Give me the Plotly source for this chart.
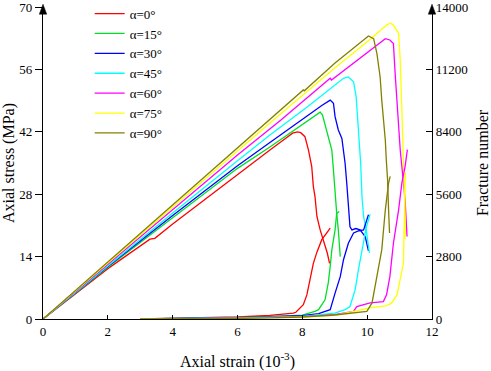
import plotly.graph_objects as go

FONT = "Liberation Serif, Times New Roman, serif"

labels = ["α=0°", "α=15°", "α=30°", "α=45°", "α=60°", "α=75°", "α=90°"]
colors = ["#FF0000", "#00E028", "#0000FF", "#00FFFF", "#FF00FF", "#FFFF00", "#808000"]

# ---- stress-strain curves (strain 10^-3, stress MPa) ----
strain_0 = [0, 2, 3.3, 3.45, 4, 6, 7.0, 7.5, 7.7, 7.85, 7.95, 8.08, 8.19, 8.29, 8.34, 8.39, 8.45, 8.55, 8.65, 8.77, 8.84]
stress_0 = [0, 11.3, 17.9, 18.1, 21.3, 32.5, 37.9, 40.6, 41.7, 42.0, 41.8, 40.9, 37.9, 34.2, 29.7, 27.5, 23.0, 20.0, 17.8, 14.8, 12.5]

strain_15 = [0, 2, 4, 6, 7.0, 8.19, 8.4, 8.55, 8.62, 8.7, 8.76, 8.86, 8.91, 8.96, 9.01, 9.06, 9.11, 9.14, 9.17]
stress_15 = [0, 11.6, 22.7, 33.8, 38.6, 44.6, 45.8, 46.4, 45.8, 43.5, 42.0, 39.4, 37.9, 33.4, 27.5, 23.7, 20.0, 16.0, 14.0]

strain_30 = [0, 2, 4, 6, 7.0, 8.19, 8.6, 8.86, 8.96, 9.01, 9.11, 9.22, 9.32, 9.37, 9.42, 9.47, 9.53, 9.65, 9.78, 9.94, 10.04]
stress_30 = [0, 11.8, 23.2, 34.4, 39.6, 45.9, 47.9, 49.1, 48.4, 45.4, 42.4, 40.5, 34.9, 30.5, 25.2, 20.7, 20.0, 20.3, 20.0, 18.5, 15.3]

strain_45 = [0, 2, 4, 6, 7.0, 8.19, 9.0, 9.27, 9.42, 9.58, 9.66, 9.7, 9.75, 9.8, 9.84, 9.89, 9.97, 10.04, 10.07]
stress_45 = [0, 12.0, 23.8, 35.5, 41.3, 47.8, 52.5, 54.0, 54.3, 53.2, 49.9, 45.4, 41.0, 34.9, 27.5, 23.0, 20.0, 17.0, 14.8]

strain_60 = [0, 2, 4, 6, 7.33, 8.19, 8.86, 8.9, 9.5, 10.4, 10.56, 10.7, 10.81, 10.87, 10.97, 11.02, 11.12, 11.17, 11.23]
stress_60 = [0, 12.3, 24.5, 36.8, 44.6, 50.0, 54.0, 53.6, 57.0, 62.2, 62.9, 62.6, 61.8, 54.3, 43.1, 37.9, 30.5, 26.7, 18.5]

strain_75 = [0, 2, 4, 6, 7.0, 8.19, 9.0, 10.0, 10.61, 10.71, 10.8, 10.97, 11.02, 11.07, 11.12, 11.15, 11.17, 11.17]
stress_75 = [0, 12.6, 25.0, 37.6, 44.0, 51.3, 56.3, 62.2, 66.0, 66.4, 66.0, 64.1, 58.1, 46.9, 35.7, 29.7, 23.0, 18.0]

strain_90 = [0, 2, 4, 6, 7.0, 8.03, 8.06, 9.0, 10.04, 10.2, 10.3, 10.4, 10.45, 10.56, 10.59, 10.63, 10.66, 10.69]
stress_90 = [0, 12.8, 25.6, 38.4, 44.8, 51.4, 51.2, 57.4, 63.5, 62.9, 59.6, 54.3, 49.1, 40.1, 35.7, 31.2, 24.5, 19.3]

# ---- fracture number curves (strain 10^-3, count) ----
fstrain_0 = [3.0, 4, 5, 6, 7, 7.5, 7.72, 7.8, 8.03, 8.14, 8.24, 8.34, 8.45, 8.6, 8.72, 8.86]
fracture_0 = [0, 20, 50, 90, 160, 220, 260, 300, 640, 1080, 1760, 2500, 3000, 3560, 3800, 4080]

fstrain_15 = [3.0, 4, 5, 6, 7, 8, 8.39, 8.5, 8.7, 8.8, 8.86, 8.91, 9.01, 9.06, 9.14]
fracture_15 = [0, 16, 40, 70, 110, 170, 340, 420, 860, 1620, 2360, 3100, 4000, 4740, 4820]

fstrain_30 = [3.0, 4, 5, 6, 7, 8, 8.5, 8.86, 9.01, 9.17, 9.27, 9.42, 9.58, 9.75, 9.89, 10.04]
fracture_30 = [0, 12, 30, 60, 100, 150, 240, 420, 1160, 1900, 2660, 3400, 3860, 3960, 4000, 4680]

fstrain_45 = [3.0, 4, 5, 6, 7, 8, 9, 9.32, 9.47, 9.63, 9.73, 9.84, 9.97, 10.09]
fracture_45 = [0, 10, 24, 50, 80, 120, 260, 420, 560, 1320, 2200, 3100, 4100, 4700]

fstrain_60 = [3.0, 4, 5, 6, 7, 8, 9, 9.58, 9.68, 10.09, 10.5, 10.6, 10.7, 10.81, 10.97, 11.07, 11.17, 11.24]
fracture_60 = [0, 8, 20, 40, 70, 110, 200, 340, 560, 720, 780, 1100, 1900, 3400, 4900, 6100, 6840, 7600]

fstrain_75 = [3.0, 4, 5, 6, 7, 8, 9, 10.09, 10.6, 10.76, 10.92, 11.02, 11.12, 11.15, 11.18]
fracture_75 = [0, 6, 16, 30, 60, 90, 160, 500, 600, 720, 1080, 1760, 2500, 4740, 6600]

fstrain_90 = [3.0, 4, 5, 6, 7, 8, 9, 9.99, 10.15, 10.25, 10.35, 10.45, 10.56, 10.66, 10.71]
fracture_90 = [0, 4, 12, 24, 50, 90, 180, 340, 720, 1460, 2360, 3100, 4900, 6100, 6400]

x_ticks = [0, 2, 4, 6, 8, 10, 12]
y_ticks = [0, 14, 28, 42, 56, 70]
y2_ticks = [0, 2800, 5600, 8400, 11200, 14000]

stress_sets = [(strain_0, stress_0), (strain_15, stress_15), (strain_30, stress_30),
               (strain_45, stress_45), (strain_60, stress_60), (strain_75, stress_75),
               (strain_90, stress_90)]
fracture_sets = [(fstrain_0, fracture_0), (fstrain_15, fracture_15), (fstrain_30, fracture_30),
                 (fstrain_45, fracture_45), (fstrain_60, fracture_60), (fstrain_75, fracture_75),
                 (fstrain_90, fracture_90)]

fig = go.Figure()
for (sx, sy), lab, col in zip(stress_sets, labels, colors):
    fig.add_trace(go.Scatter(x=sx, y=sy, mode="lines", name=lab,
                             line=dict(color=col, width=1.3)))
for (fx, fy), lab, col in zip(fracture_sets, labels, colors):
    fig.add_trace(go.Scatter(x=fx, y=fy, mode="lines", name=lab, yaxis="y2",
                             line=dict(color=col, width=1.3), showlegend=False))

axis_common = dict(showgrid=False, zeroline=False, showline=True, linecolor="black",
                   linewidth=1.4, tickcolor="black", tickwidth=1.3, automargin=False,
                   ticklabeloverflow="allow",
                   tickfont=dict(family=FONT, size=13, color="black"))

fig.update_layout(
    width=491, height=371,
    margin=dict(l=43, r=59, t=7, b=52, autoexpand=False),
    paper_bgcolor="white", plot_bgcolor="white",
    font=dict(family=FONT, size=13, color="black"),
    xaxis=dict(range=[0, 12], tickvals=x_ticks, ticks="inside", ticklen=4,
               title=dict(text="Axial strain (10<sup>-3</sup>)", font=dict(family=FONT, size=16),
                          standoff=18),
               **axis_common),
    yaxis=dict(range=[0, 70], tickvals=y_ticks, ticks="outside", ticklen=7,
               title=dict(text="Axial stress (MPa)", font=dict(family=FONT, size=16), standoff=4),
               **axis_common),
    yaxis2=dict(range=[0, 14000], tickvals=y2_ticks, tickformat="d", ticks="inside", ticklen=6,
                overlaying="y", side="right", anchor="x",
                title=dict(text="Fracture number", font=dict(family=FONT, size=16), standoff=14),
                **axis_common),
    legend=dict(x=0.12, y=1.027, xanchor="left", yanchor="top", tracegroupgap=0,
                bgcolor="rgba(0,0,0,0)", font=dict(family=FONT, size=13),
                itemwidth=30),
    showlegend=True,
)

# arrowheads on the vertical axes
for xp in (0, 1):
    fig.add_shape(type="path", xref="paper", yref="paper",
                  path=f"M {xp-0.0095},0.977 L {xp},1.009 L {xp+0.0095},0.977 Z",
                  fillcolor="black", line=dict(color="black", width=0.5))

fig.write_html("out.html", config={"displayModeBar": False},
               post_script="document.body.style.margin='0px';")
